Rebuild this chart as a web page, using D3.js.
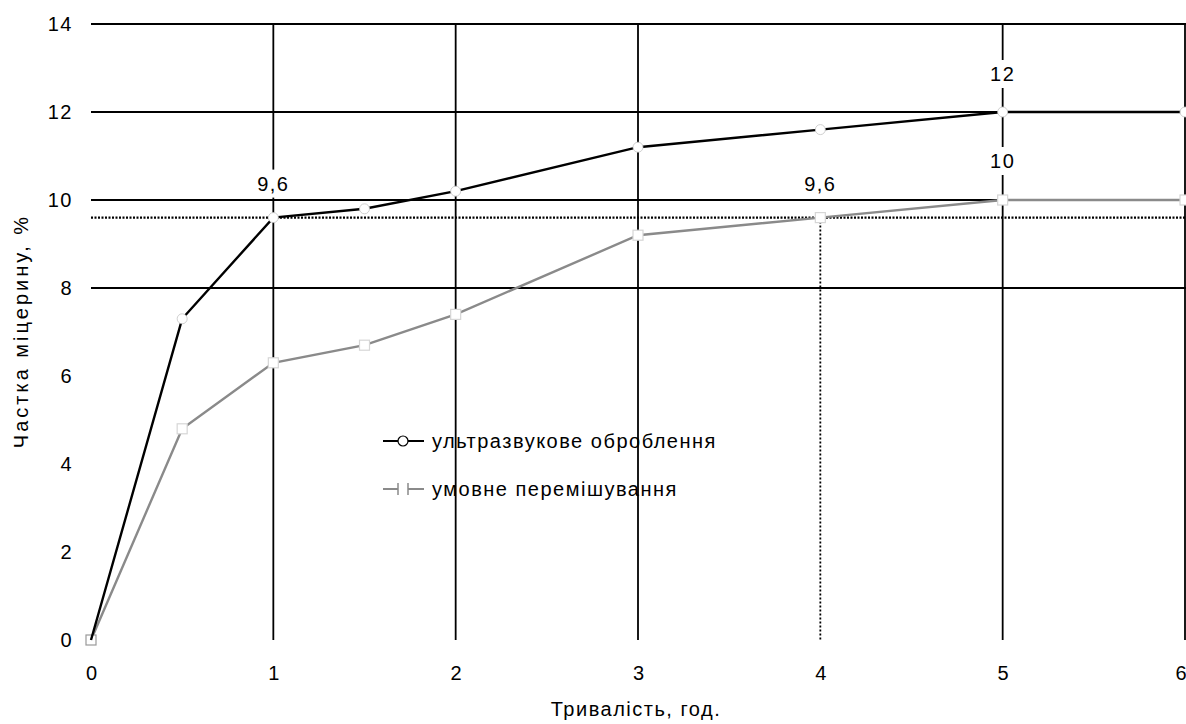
<!DOCTYPE html>
<html>
<head>
<meta charset="utf-8">
<script src="https://cdn.jsdelivr.net/npm/d3@7"></script>
<style>
  html, body { margin: 0; padding: 0; background: #fff; }
  svg { display: block; font-family: "Liberation Sans", Arial, sans-serif; }
</style>
</head>
<body>
<svg id="chart" width="1186" height="724"></svg>
<script>
// Duration of treatment, hours
const hours = [0, 0.5, 1, 1.5, 2, 3, 4, 5, 6];
// Strength gain, % — ultrasonic treatment
const ultrasonic = [0, 7.3, 9.6, 9.8, 10.2, 11.2, 11.6, 12, 12];
// Strength gain, % — conventional mixing
const mixing = [0, 4.8, 6.3, 6.7, 7.4, 9.2, 9.6, 10, 10];

const xTicks = [0, 1, 2, 3, 4, 5, 6];
const yTicks = [0, 2, 4, 6, 8, 10, 12, 14];
const gridY = [8, 10, 12, 14];
const gridX = [1, 2, 3, 5, 6];
const refLevel = 9.6;
const refHour = 4;

// Value call-outs: [hour, value, text, offset above the point in px]
const callouts = [
  [1, 9.6, "9,6", 34],
  [4, 9.6, "9,6", 34],
  [5, 12, "12", 38],
  [5, 10, "10", 39]
];

const seriesNames = ["ультразвукове оброблення", "умовне перемішування"];

const FS = 20;
const LS = 1.5;

const svg = d3.select("#chart");
const x = d3.scaleLinear().domain([0, 6]).range([91, 1185]);
const y = d3.scaleLinear().domain([0, 14]).range([640, 24]);

// Horizontal grid lines
svg.append("g").selectAll("line").data(gridY).join("line")
  .attr("x1", x(0)).attr("x2", 1186)
  .attr("y1", d => y(d)).attr("y2", d => y(d))
  .attr("stroke", "#000").attr("stroke-width", 1.8);

// Vertical grid lines
svg.append("g").selectAll("line").data(gridX).join("line")
  .attr("x1", d => x(d)).attr("x2", d => x(d))
  .attr("y1", y(14)).attr("y2", y(0))
  .attr("stroke", "#000").attr("stroke-width", 1.8);

// Reference level and reference hour (dotted)
svg.append("line")
  .attr("x1", x(0)).attr("x2", 1186)
  .attr("y1", y(refLevel)).attr("y2", y(refLevel))
  .attr("stroke", "#000").attr("stroke-width", 2.2)
  .attr("stroke-dasharray", "2,1.5");
svg.append("line")
  .attr("x1", x(refHour)).attr("x2", x(refHour))
  .attr("y1", y(refLevel)).attr("y2", y(0))
  .attr("stroke", "#000").attr("stroke-width", 1.8)
  .attr("stroke-dasharray", "2,2");

// Y axis (labels only)
const yAxis = d3.axisLeft(y).tickValues(yTicks).tickSize(0).tickPadding(0)
  .tickFormat(d3.format("d"));
const gy = svg.append("g").attr("transform", "translate(73,0)").call(yAxis);
gy.select(".domain").remove();
gy.selectAll("text").attr("font-size", FS).attr("letter-spacing", LS).attr("fill", "#000")
  .attr("font-family", "Liberation Sans, Arial, sans-serif");

// X axis (labels only)
const xAxis = d3.axisBottom(x).tickValues(xTicks).tickSize(0).tickPadding(0)
  .tickFormat(d3.format("d"));
const gx = svg.append("g").attr("transform", "translate(0,666)").call(xAxis);
gx.select(".domain").remove();
gx.selectAll("text").attr("font-size", FS).attr("fill", "#000")
  .attr("font-family", "Liberation Sans, Arial, sans-serif");
// keep the last label inside the frame
gx.selectAll("text").filter(d => d === 6).attr("text-anchor", "end").attr("dx", 1);

// Axis titles
svg.append("text")
  .attr("x", 636).attr("y", 716)
  .attr("text-anchor", "middle").attr("font-size", FS).attr("letter-spacing", LS)
  .text("Тривалість, год.");
svg.append("text")
  .attr("transform", "translate(28,331) rotate(-90)")
  .attr("text-anchor", "middle").attr("font-size", FS).attr("letter-spacing", 3)
  .text("Частка міцерину, %");

// Value call-outs with white backing
const cg = svg.append("g");
callouts.forEach(([h, v, t, off]) => {
  const cx = x(h), cy = y(v) - off;
  const g = cg.append("g");
  const txt = g.append("text").attr("x", cx).attr("y", cy)
    .attr("text-anchor", "middle").attr("dominant-baseline", "central")
    .attr("font-size", FS).attr("letter-spacing", LS).text(t);
  const bb = txt.node().getBBox();
  g.insert("rect", "text")
    .attr("x", bb.x - 4).attr("y", bb.y - 3)
    .attr("width", bb.width + 8).attr("height", bb.height + 6)
    .attr("fill", "#fff");
});

const line = d3.line().x(d => x(d[0])).y(d => y(d[1]));

// Conventional mixing
const mixPts = hours.map((h, i) => [h, mixing[i]]);
svg.append("path").datum(mixPts).attr("d", line)
  .attr("fill", "none").attr("stroke", "#8a8a8a").attr("stroke-width", 2.4);
svg.append("g").selectAll("rect").data(mixPts).join("rect")
  .attr("x", d => x(d[0]) - 5).attr("y", d => y(d[1]) - 5)
  .attr("width", 10).attr("height", 10)
  .attr("fill", "#fff")
  .attr("stroke", (d, i) => i === 0 ? "#999" : "#d6d6d6").attr("stroke-width", 1.2);

// Ultrasonic treatment
const usPts = hours.map((h, i) => [h, ultrasonic[i]]);
svg.append("path").datum(usPts).attr("d", line)
  .attr("fill", "none").attr("stroke", "#000").attr("stroke-width", 2.4);
svg.append("g").selectAll("circle").data(usPts.slice(1)).join("circle")
  .attr("cx", d => x(d[0])).attr("cy", d => y(d[1])).attr("r", 5)
  .attr("fill", "#fff").attr("stroke", "#c4c4c4").attr("stroke-width", 0.8);

// Legend
const legend = svg.append("g");
const ly = [441, 489];
legend.append("line").attr("x1", 383).attr("x2", 424).attr("y1", ly[0]).attr("y2", ly[0])
  .attr("stroke", "#000").attr("stroke-width", 2);
legend.append("circle").attr("cx", 403).attr("cy", ly[0]).attr("r", 5)
  .attr("fill", "#fff").attr("stroke", "#000").attr("stroke-width", 1.2);
legend.append("line").attr("x1", 383).attr("x2", 424).attr("y1", ly[1]).attr("y2", ly[1])
  .attr("stroke", "#8a8a8a").attr("stroke-width", 2);
legend.append("rect").attr("x", 398).attr("y", ly[1] - 5).attr("width", 10).attr("height", 10)
  .attr("fill", "#fff").attr("stroke", "none");
legend.append("line").attr("x1", 398).attr("x2", 398).attr("y1", ly[1] - 6).attr("y2", ly[1] + 6)
  .attr("stroke", "#8a8a8a").attr("stroke-width", 1.5);
legend.append("line").attr("x1", 408).attr("x2", 408).attr("y1", ly[1] - 6).attr("y2", ly[1] + 6)
  .attr("stroke", "#8a8a8a").attr("stroke-width", 1.5);
legend.selectAll("text.lbl").data(seriesNames).join("text")
  .attr("class", "lbl")
  .attr("x", 432).attr("y", (d, i) => ly[i])
  .attr("dominant-baseline", "central").attr("font-size", FS).attr("letter-spacing", LS)
  .text(d => d);
</script>
</body>
</html>
